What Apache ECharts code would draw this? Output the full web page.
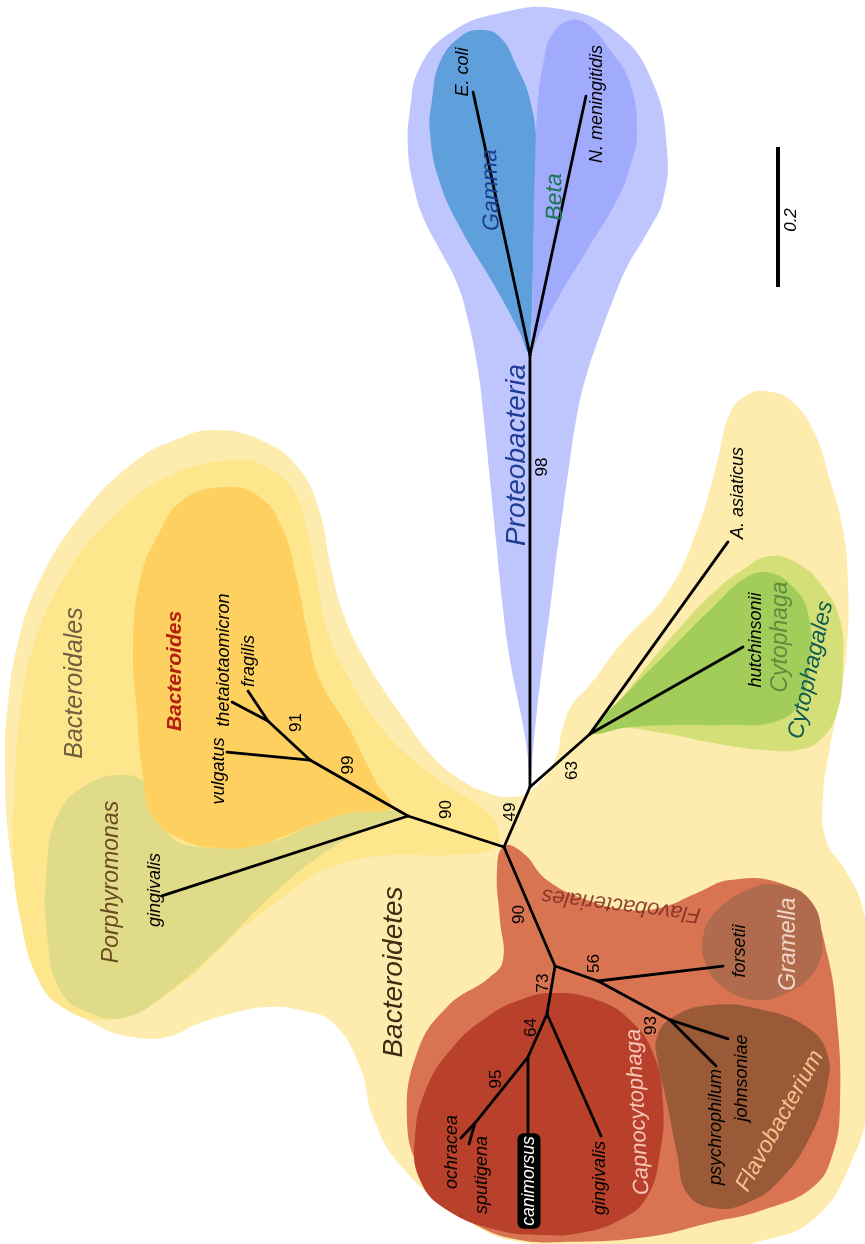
<!DOCTYPE html>
<html>
<head>
<meta charset="utf-8">
<script src="https://cdn.jsdelivr.net/npm/echarts@6/dist/echarts.min.js"></script>
<style>
  html, body { margin: 0; padding: 0; background: #ffffff; }
  #chart { width: 865px; height: 1244px; }
</style>
</head>
<body>
<div id="chart"></div>
<script>
// ---------------------------------------------------------------
// Unrooted 16S rRNA tree, Bacteroidetes vs. Proteobacteria
// branch lengths in substitutions per site, support = bootstrap %
// ---------------------------------------------------------------
const nodeIds = [
  'root', 'n49', 'nProteo', 'ecoli', 'nmen', 'n63', 'asiat', 'hutch',
  'nBacl', 'porphGing', 'n99', 'vulg', 'n91', 'theta', 'frag',
  'nFlavo', 'n56', 'fors', 'n93', 'john', 'psych',
  'n73', 'capGing', 'n64', 'canim', 'n95', 'ochr', 'sput'
];
const parentIds = [
  null, 'root', 'n49', 'nProteo', 'nProteo', 'n49', 'n63', 'n63',
  'root', 'nBacl', 'nBacl', 'n99', 'n99', 'n91', 'n91',
  'root', 'nFlavo', 'n56', 'n56', 'n93', 'n93',
  'nFlavo', 'n73', 'n73', 'n64', 'n64', 'n95', 'n95'
];
const branchLengths = [
  0, 0.0934, 0.617, 0.3844, 0.3786, 0.1144, 0.3378, 0.2514,
  0.1441, 0.3696, 0.1612, 0.1191, 0.0819, 0.0581, 0.0515,
  0.185, 0.065, 0.1799, 0.117, 0.0872, 0.0929,
  0.0695, 0.1906, 0.0672, 0.1114, 0.1209, 0.0293, 0.0312
];
const tipNames = [
  '', '', '', 'E. coli', 'N. meningitidis', '', 'A. asiaticus', 'hutchinsonii',
  '', 'gingivalis', '', 'vulgatus', '', 'thetaiotaomicron', 'fragilis',
  '', '', 'forsetii', '', 'johnsoniae', 'psychrophilum',
  '', 'gingivalis', '', 'canimorsus', '', 'ochracea', 'sputigena'
];
const supportValues = [
  null, 49, 98, null, null, 63, null, null,
  90, null, 99, null, 91, null, null,
  90, 56, null, 93, null, null,
  73, null, 64, null, 95, null, null
];
const highlightedTip = 'canim';

// clade names drawn over the shaded groups
const cladeNames = [
  'Proteobacteria', 'Gamma', 'Beta', 'Bacteroidales', 'Bacteroides',
  'Porphyromonas', 'Bacteroidetes', 'Cytophaga', 'Cytophagales',
  'Flavobacteriales', 'Gramella', 'Flavobacterium', 'Capnocytophaga'
];
const scaleBarValue = 0.2;
const scaleBarText = '0.2';

// ---------------------------------------------------------------
// layout (drawing units = px of the 865 x 1244 canvas)
// ---------------------------------------------------------------
const rootPosition = [504, 847];
const unitsPerSubstitution = 700;
// branch directions, degrees counter-clockwise from +x
const branchAngles = [
  0, 66.6, 90, 102.2, 77.8, 41.5, 54.3, 29.6,
  162.1, 198.0, 150.3, 174.5, 137.1, 152.2, 123.7,
  293.2, 340.8, 6.8, 331.6, 341.9, 315,
  260.5, 293.9, 246.2, 270, 231.2, 227, 254.1
];
// tip label centre, offset from the tip
const tipLabelOffsets = {
  ecoli: [-10, -20], nmen: [11, 8], asiat: [10, -49], hutch: [13, -7],
  porphGing: [-7, -6], vulg: [-8, 19], theta: [-8, -42], frag: [1, -30],
  fors: [17, -15], john: [14, 39], psych: [0, 61],
  capGing: [-1, 42], canim: [1, 46], ochr: [-9, 14], sput: [13, 31]
};
// support label centre, offset from the branch midpoint
const supportOffsets = {
  n49: [-7, -5], nProteo: [12, -104], n63: [12, 10], nBacl: [-10, -22],
  n99: [-11, -23], n91: [7, -18], nFlavo: [-10, 8], n56: [18, -10],
  n93: [17, 25], n73: [-8, -7], n64: [-6, -8], n95: [-5, -11]
};
// clade label: [x, y, rotation deg, font size]
const cladeLayout = [
  [517, 455, 90, 28], [491, 190, 92, 23], [555, 197, 91, 23],
  [75, 683, 90, 25], [175, 671, 90, 21], [112, 882, 90, 23],
  [394, 972, 90, 28], [781, 637, 90, 23], [811, 670, 77.5, 23],
  [621, 905, 173, 22], [789, 944, 90, 23], [780, 1121, 61, 23],
  [638, 1112, 93, 22]
];
const cladeColors = [
  '#1f3c96', '#1d3d8e', '#1b7650', '#6f5e3f', '#b3200f',
  '#6a4a1f', '#3b2c12', '#5b8d3c', '#0e5b52',
  'rgba(125,45,30,0.85)', '#f3d5c6', '#f6c28d', '#f7c6b6'
];
const cladeWeights = ['normal', 'normal', 'normal', 'normal', 'bold', 'normal', 'normal',
  'normal', 'normal', 'normal', 'normal', 'normal', 'normal'];
const scaleBarPosition = [778, 147];

// shaded clade regions (outline points, drawing units), back to front
const regionFills = [
  '#fdecad', '#fde68c', '#e0db88', '#fdd060',
  '#bfc6fd', '#5f9fdc', '#a1abfe',
  '#d5df78', '#a2cd5a',
  '#d97453', '#b9402b', '#b06b4f', '#9a5a37'
];
const regionOutlines = [
  // Bacteroidetes
  [[217,430],[267,443],[300,470],[320,513],[330,563],[343,613],[367,663],[400,713],[433,757],
   [458,778],[485,792],[513,797],[532,790],[555,760],[562,730],[572,705],[590,685],[620,645],
   [667,593],[697,530],[717,463],[730,413],[747,395],[765,391],[790,400],[813,430],[830,480],
   [843,530],[848,580],[847,647],[840,697],[830,747],[823,797],[826,840],[845,870],[862,905],
   [868,960],[868,1100],[850,1165],[815,1218],[765,1240],[700,1248],[520,1242],[455,1212],
   [400,1165],[373,1117],[360,1067],[333,1023],[300,1010],[267,1007],[233,1013],[200,1023],
   [167,1037],[133,1037],[100,1027],[67,1003],[40,967],[20,900],[8,833],[5,750],[7,713],
   [17,647],[40,580],[83,513],[133,463],[175,440]],
  // Bacteroidales
  [[233,460],[267,467],[293,490],[307,530],[317,580],[327,630],[350,680],[383,730],[417,763],
   [450,788],[485,810],[498,830],[494,848],[450,855],[380,856],[330,868],[290,892],[233,937],
   [183,983],[133,1013],[100,1020],[67,1010],[40,983],[20,917],[13,850],[15,780],[20,713],
   [33,647],[67,573],[110,520],[167,477]],
  // Porphyromonas
  [[83,787],[127,775],[150,790],[167,833],[200,847],[267,843],[333,817],[383,810],[402,815],
   [367,829],[317,858],[267,900],[217,950],[167,993],[127,1017],[90,1013],[60,990],[47,933],
   [47,867],[57,817]],
  // Bacteroides
  [[227,487],[260,497],[283,530],[297,580],[307,630],[320,680],[350,730],[375,780],[392,806],
   [383,811],[350,813],[317,823],[283,837],[250,847],[217,848],[183,840],[153,817],[143,777],
   [137,713],[133,647],[140,580],[157,537],[183,500]],
  // Proteobacteria
  [[560,9],[617,33],[653,83],[667,150],[663,200],[647,233],[627,267],[613,300],[600,335],
   [588,370],[578,410],[570,460],[563,510],[556,560],[550,610],[543,660],[537,710],[533,750],
   [530,786],[527,750],[520,710],[510,660],[502,600],[496,540],[490,480],[484,420],[478,370],
   [468,320],[457,283],[440,250],[423,217],[413,183],[408,150],[410,110],[420,67],[450,33],[500,13]],
  // Gamma
  [[440,62],[460,37],[480,30],[500,37],[517,67],[530,100],[537,150],[535,200],[533,267],
   [531,333],[528,352],[520,333],[493,283],[463,233],[440,183],[430,133],[432,100]],
  // Beta
  [[550,38],[567,21],[587,24],[610,50],[630,83],[637,133],[630,167],[617,200],[587,250],
   [557,300],[540,333],[531,352],[532,333],[533,267],[535,167],[538,100],[545,55]],
  // Cytophagales
  [[590,733],[620,700],[663,647],[713,593],[747,567],[770,556],[797,563],[823,587],[840,620],
   [843,663],[837,713],[820,740],[797,750],[763,750],[713,743],[663,733],[620,728]],
  // Cytophaga
  [[593,732],[630,690],[673,647],[713,607],[747,577],[770,573],[793,587],[808,613],[810,663],
   [797,707],[770,723],[730,725],[680,725],[630,727]],
  // Flavobacteriales
  [[504,846],[523,853],[547,880],[587,900],[630,910],[663,907],[697,893],[730,880],[780,883],
   [810,907],[827,953],[837,1020],[840,1103],[833,1153],[813,1187],[763,1210],[713,1222],
   [647,1237],[563,1242],[520,1240],[480,1227],[447,1203],[420,1170],[407,1120],[417,1053],
   [447,1007],[490,977],[503,960],[500,920],[497,870]],
  // Capnocytophaga
  [[553,993],[597,1000],[630,1020],[653,1053],[663,1103],[660,1153],[647,1197],[620,1220],
   [580,1233],[540,1235],[497,1230],[447,1210],[420,1180],[415,1137],[427,1087],[453,1047],
   [487,1017],[520,1000]],
  // Gramella
  [[703,937],[713,915],[747,890],[780,885],[810,900],[822,937],[817,967],[793,990],[757,1000],
   [723,987],[705,962]],
  // Flavobacterium
  [[657,1037],[673,1017],[713,1005],[763,1010],[807,1027],[827,1053],[827,1087],[810,1137],
   [780,1180],[747,1203],[713,1208],[687,1193],[677,1153],[667,1103],[658,1063]]
];

// ---------------------------------------------------------------
// node positions from branch lengths
// ---------------------------------------------------------------
const nodePos = [];
nodeIds.forEach(function (id, i) {
  const p = parentIds[i];
  if (p === null) { nodePos[i] = rootPosition.slice(); return; }
  const pp = nodePos[nodeIds.indexOf(p)];
  const a = branchAngles[i] * Math.PI / 180;
  const L = branchLengths[i] * unitsPerSubstitution;
  nodePos[i] = [pp[0] + L * Math.cos(a), pp[1] - L * Math.sin(a)];
});

const branchData = [];
nodeIds.forEach(function (id, i) {
  if (parentIds[i] === null) return;
  const pp = nodePos[nodeIds.indexOf(parentIds[i])];
  branchData.push([pp[0], pp[1], nodePos[i][0], nodePos[i][1]]);
});
// scale bar drawn as an extra segment
const scaleBarData = [[scaleBarPosition[0], scaleBarPosition[1],
  scaleBarPosition[0], scaleBarPosition[1] + scaleBarValue * unitsPerSubstitution]];

const FONT = '"Liberation Sans", Arial, Helvetica, sans-serif';

// text items: [x, y, text, rotationDeg, kind, styleIndex]
const textData = [];
nodeIds.forEach(function (id, i) {
  if (tipNames[i]) {
    const o = tipLabelOffsets[id];
    textData.push([nodePos[i][0] + o[0], nodePos[i][1] + o[1], tipNames[i], 90,
      id === highlightedTip ? 'boxed' : 'tip', -1]);
  }
  if (supportValues[i] !== null) {
    const pp = nodePos[nodeIds.indexOf(parentIds[i])];
    const o = supportOffsets[id];
    textData.push([(pp[0] + nodePos[i][0]) / 2 + o[0], (pp[1] + nodePos[i][1]) / 2 + o[1],
      String(supportValues[i]), 90, 'support', -1]);
  }
});
cladeNames.forEach(function (name, i) {
  const l = cladeLayout[i];
  textData.push([l[0], l[1], name, l[2], 'clade', i]);
});
textData.push([scaleBarPosition[0] + 13,
  scaleBarPosition[1] + scaleBarValue * unitsPerSubstitution / 2 + 3, scaleBarText, 90, 'scale', -1]);

const chart = echarts.init(document.getElementById('chart'), null, { renderer: 'canvas' });

chart.setOption({
  animation: false,
  backgroundColor: '#ffffff',
  grid: { left: 0, right: 0, top: 0, bottom: 0 },
  xAxis: { type: 'value', min: 0, max: 865, show: false },
  yAxis: { type: 'value', min: 0, max: 1244, inverse: true, show: false },
  series: [
    {
      type: 'custom',
      name: 'regions',
      coordinateSystem: 'cartesian2d',
      silent: true,
      data: regionOutlines.map(function (pts) { return pts[0]; }),
      renderItem: function (params, api) {
        const i = params.dataIndex;
        const pts = regionOutlines[i].map(function (p) { return api.coord(p); });
        return {
          type: 'polygon',
          shape: { points: pts, smooth: 0.45 },
          style: { fill: regionFills[i], stroke: null }
        };
      }
    },
    {
      type: 'custom',
      name: 'branches',
      coordinateSystem: 'cartesian2d',
      silent: true,
      encode: { x: [0, 2], y: [1, 3] },
      data: branchData.concat(scaleBarData),
      renderItem: function (params, api) {
        const a = api.coord([api.value(0), api.value(1)]);
        const b = api.coord([api.value(2), api.value(3)]);
        const isScale = params.dataIndex >= branchData.length;
        return {
          type: 'line',
          shape: { x1: a[0], y1: a[1], x2: b[0], y2: b[1] },
          style: { stroke: '#000000', lineWidth: isScale ? 4 : 2.8, lineCap: isScale ? 'butt' : 'round' }
        };
      }
    },
    {
      type: 'custom',
      name: 'labels',
      coordinateSystem: 'cartesian2d',
      silent: true,
      data: textData,
      renderItem: function (params, api) {
        const d = textData[params.dataIndex];
        const p = api.coord([d[0], d[1]]);
        const kind = d[4];
        const style = {
          text: d[2], fill: '#000000', fontFamily: FONT, fontSize: 18,
          fontStyle: 'italic', fontWeight: 'normal', align: 'center', verticalAlign: 'middle'
        };
        if (kind === 'support') { style.fontStyle = 'normal'; style.fontSize = 17; }
        if (kind === 'boxed') {
          style.fill = '#ffffff'; style.backgroundColor = '#000000';
          style.padding = [3, 3, 2, 3]; style.borderRadius = 6; style.fontSize = 17.5;
        }
        if (kind === 'scale') { style.fontSize = 17; }
        if (kind === 'clade') {
          const l = cladeLayout[d[5]];
          style.fill = cladeColors[d[5]];
          style.fontSize = l[3];
          style.fontWeight = cladeWeights[d[5]];
        }
        return {
          type: 'text',
          x: p[0], y: p[1],
          rotation: d[3] * Math.PI / 180,
          style: style
        };
      }
    }
  ]
});
</script>
</body>
</html>
